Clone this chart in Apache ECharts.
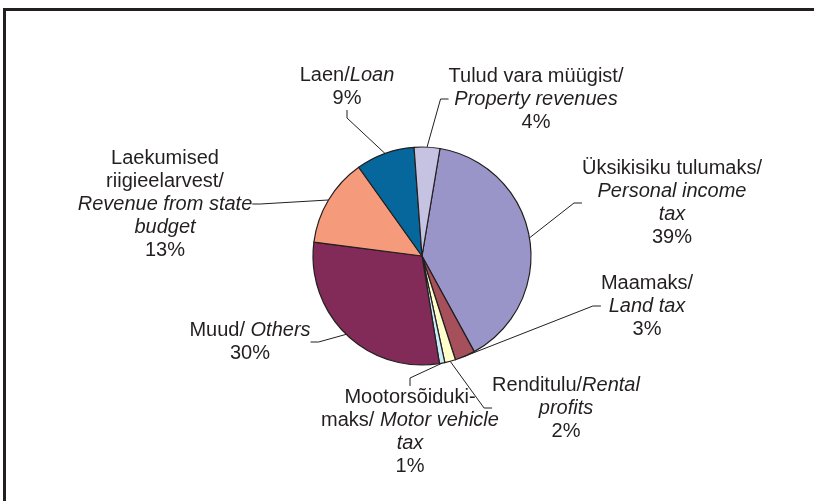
<!DOCTYPE html>
<html>
<head>
<meta charset="utf-8">
<script src="https://cdn.jsdelivr.net/npm/echarts@6/dist/echarts.min.js"></script>
<style>
    html, body {margin: 0; padding: 0; background: #fff;}
    #chart {width: 814px; height: 501px;}
</style>
</head>
<body>
<div id="chart"></div>
<script>
// slices, clockwise from the top
const categories = [
    'Üksikisiku tulumaks/Personal income tax',
    'Maamaks/Land tax',
    'Renditulu/Rental profits',
    'Mootorsõidukimaks/Motor vehicle tax',
    'Muud/Others',
    'Laekumised riigieelarvest/Revenue from state budget',
    'Laen/Loan',
    'Tulud vara müügist/Property revenues',
];
const shares = [39.4, 3.0, 1.6, 0.8, 29.6, 13.1, 8.7, 3.8];

// label text, {i|...} = English part in italic
const labelTexts = [
    'Üksikisiku tulumaks/\n{i|Personal income}\n{i|tax}',
    'Maamaks/\n{i|Land tax}',
    'Renditulu/{i|Rental}\n{i|profits}',
    'Mootorsõiduki-\nmaks/ {i|Motor vehicle}\n{i|tax}',
    'Muud/ {i|Others}',
    'Laekumised\nriigieelarvest/\n{i|Revenue from state}\n{i|budget}',
    'Laen/{i|Loan}',
    'Tulud vara müügist/\n{i|Property revenues}',
];

const colors = ['#9a95c8', '#a6505b', '#ffffcc', '#cdecfb', '#822b58', '#f59a7a', '#05679b', '#c6c2e2'];

// label centres in px (layout only)
const labelPos = [
    [672, 203],
    [647, 306],
    [566, 408],
    [410, 432],
    [250, 342],
    [165, 204],
    [347, 87],
    [536, 99],
];

const font = {
    fontFamily: 'Liberation Sans, Arial, sans-serif',
    fontSize: 20,
    color: '#231f20',
    lineHeight: 23,
};

const chart = echarts.init(document.getElementById('chart'), null, {renderer: 'canvas'});

chart.setOption({
    animation: false,
    backgroundColor: '#fff',
    graphic: [
        {
            type: 'rect',
            shape: {x: 4.5, y: 9.5, width: 900, height: 600},
            style: {fill: 'none', stroke: '#231f20', lineWidth: 3},
            silent: true,
        },
    ],
    series: [
        {
            type: 'pie',
            center: [422, 256],
            radius: 109,
            startAngle: 80.5,
            clockwise: true,
            avoidLabelOverlap: false,
            itemStyle: {borderColor: '#231f20', borderWidth: 1.2},
            label: {
                show: true,
                position: 'outside',
                ...font,
                formatter: p => labelTexts[p.dataIndex] + '\n' + Math.round(p.value) + '%',
                rich: {
                    i: {...font, fontStyle: 'italic'},
                },
            },
            labelLine: {
                show: true,
                length: 10,
                length2: 8,
                lineStyle: {color: '#231f20', width: 1},
            },
            labelLayout: params => {
                const p = labelPos[params.dataIndex];
                return {x: p[0], y: p[1], align: 'center', verticalAlign: 'middle'};
            },
            emphasis: {disabled: true},
            data: categories.map((name, i) => ({
                name,
                value: shares[i],
                itemStyle: {color: colors[i]},
            })),
        },
    ],
});
</script>
</body>
</html>
